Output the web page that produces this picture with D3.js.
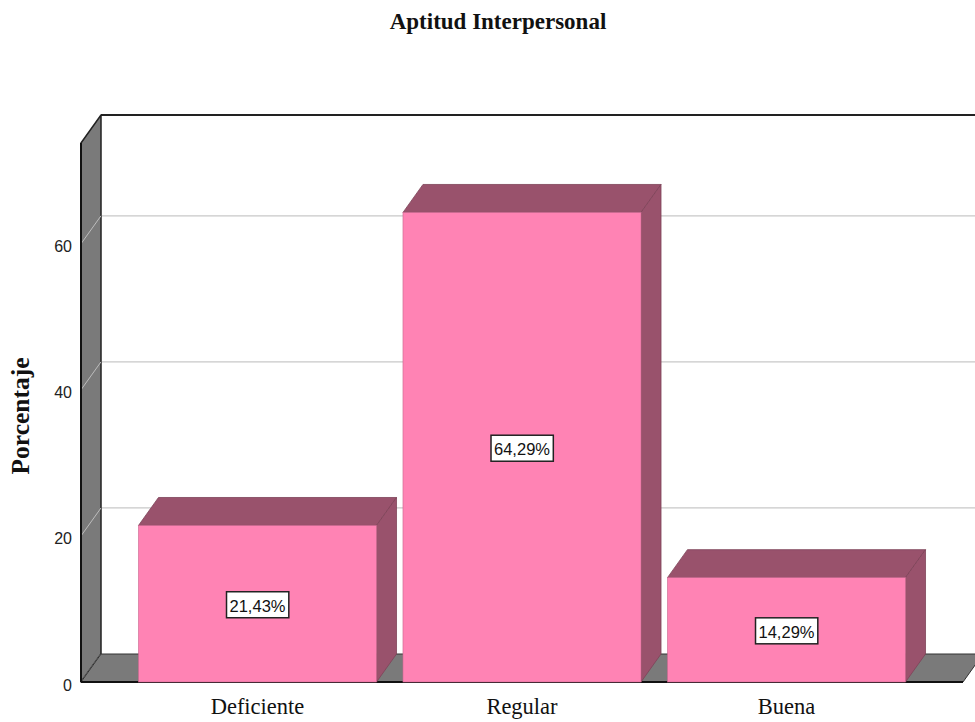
<!DOCTYPE html>
<html><head><meta charset="utf-8">
<script src="https://cdn.jsdelivr.net/npm/d3@7"></script>
<style>body{margin:0;background:#fff}svg{display:block}</style>
</head><body>
<script>
const categories = ["Deficiente", "Regular", "Buena"];
const values = [21.43, 64.29, 14.29];
const valueLabels = ["21,43%", "64,29%", "14,29%"];
const yTicks = [0, 20, 40, 60];
const title = "Aptitud Interpersonal";
const yTitle = "Porcentaje";

const W = 975, H = 722;
const dx = 20, dy = -28;
const svg = d3.select("body").append("svg").attr("width", W).attr("height", H);

const y = d3.scaleLinear().domain([0, 73.8]).range([682, 143]);
const x = d3.scaleBand().domain(categories).range([125.25, 918.75]).paddingInner(0.1).paddingOuter(0.05);
const x0 = 81, x1 = 963;

// back wall
svg.append("rect").attr("x", x0 + dx).attr("y", y.range()[1] + dy).attr("width", W).attr("height", y(0) - y.range()[1]).attr("fill", "#fff");
svg.selectAll(".grid").data(yTicks.filter(d => d > 0)).join("line")
  .attr("x1", x0 + dx).attr("x2", W).attr("y1", d => y(d) + dy).attr("y2", d => y(d) + dy)
  .attr("stroke", "#c8c8c8").attr("stroke-width", 1.2);
svg.append("line").attr("x1", x0 + dx).attr("x2", W).attr("y1", y.range()[1] + dy).attr("y2", y.range()[1] + dy)
  .attr("stroke", "#222").attr("stroke-width", 2);

// left wall
svg.append("path").attr("d", `M${x0},${y(0)}L${x0 + dx},${y(0) + dy}L${x0 + dx},${y.range()[1] + dy}L${x0},${y.range()[1]}Z`)
  .attr("fill", "#7a7a7a").attr("stroke", "#222").attr("stroke-width", 1.5).attr("stroke-linejoin", "round");
svg.selectAll(".lgrid").data(yTicks).join("line")
  .attr("x1", x0).attr("x2", x0 + dx).attr("y1", d => y(d)).attr("y2", d => y(d) + dy)
  .attr("stroke", "#bdbdbd").attr("stroke-width", 1);
// floor
svg.append("path").attr("d", `M${x0},${y(0)}L${x1},${y(0)}L${x1 + dx},${y(0) + dy}L${x0 + dx},${y(0) + dy}Z`)
  .attr("fill", "#7a7a7a").attr("stroke", "#333").attr("stroke-width", 1);
svg.append("line").attr("x1", x0).attr("x2", x1).attr("y1", y(0)).attr("y2", y(0)).attr("stroke", "#111").attr("stroke-width", 2);
svg.append("line").attr("x1", x0).attr("x2", x0).attr("y1", y(0)).attr("y2", y.range()[1]).attr("stroke", "#111").attr("stroke-width", 2);

// bars
const front = "#ff83b4", dark = "#99526c", edge = "#7d4258";
const bars = svg.selectAll(".bar").data(categories.map((c, i) => ({c, v: values[i], l: valueLabels[i]}))).join("g");
bars.append("path").attr("d", d => {
  const l = x(d.c), r = l + x.bandwidth(), t = y(d.v);
  return `M${l},${t}L${l + dx},${t + dy}L${r + dx},${t + dy}L${r},${t}Z`;
}).attr("fill", dark).attr("stroke", edge).attr("stroke-width", 0.8);
bars.append("path").attr("d", d => {
  const r = x(d.c) + x.bandwidth(), t = y(d.v), b = y(0);
  return `M${r},${t}L${r + dx},${t + dy}L${r + dx},${b + dy}L${r},${b}Z`;
}).attr("fill", dark).attr("stroke", edge).attr("stroke-width", 0.8);
bars.append("rect").attr("x", d => x(d.c)).attr("y", d => y(d.v)).attr("width", x.bandwidth()).attr("height", d => y(0) - y(d.v))
  .attr("fill", front).attr("stroke", "#c8688f").attr("stroke-width", 0.6);

// value labels
bars.each(function(d) {
  const g = d3.select(this);
  const cx = x(d.c) + x.bandwidth() / 2, cy = (y(d.v) + y(0)) / 2 + 1;
  const t = g.append("text").attr("x", cx).attr("y", cy + 1).attr("text-anchor", "middle").attr("dominant-baseline", "central")
    .attr("font-family", "Liberation Sans, Arial, sans-serif").attr("font-size", 16.5).attr("fill", "#111").text(d.l);
  const bb = t.node().getBBox();
  g.insert("rect", "text").attr("x", bb.x - 3).attr("y", cy - 13).attr("width", bb.width + 6).attr("height", 26)
    .attr("fill", "#fff").attr("stroke", "#222").attr("stroke-width", 1.5);
});

// y ticks
svg.selectAll(".tick").data(yTicks).join("text")
  .attr("x", 72).attr("y", d => y(d) + 3).attr("text-anchor", "end").attr("dominant-baseline", "central")
  .attr("font-family", "Liberation Sans, Arial, sans-serif").attr("font-size", 16).attr("fill", "#222").text(d => d);

// category labels
svg.selectAll(".cat").data(categories).join("text")
  .attr("x", d => x(d) + x.bandwidth() / 2).attr("y", 714).attr("text-anchor", "middle")
  .attr("font-family", "Liberation Serif, Times New Roman, serif").attr("font-size", 22.5).attr("fill", "#111").text(d => d);

// titles
svg.append("text").attr("x", 498).attr("y", 29).attr("text-anchor", "middle")
  .attr("font-family", "Liberation Serif, Times New Roman, serif").attr("font-weight", "bold").attr("font-size", 23).attr("fill", "#111").text(title);
svg.append("text").attr("transform", "translate(29,416) rotate(-90)").attr("text-anchor", "middle")
  .attr("font-family", "Liberation Serif, Times New Roman, serif").attr("font-weight", "bold").attr("font-size", 25.5).attr("fill", "#111").text(yTitle);
</script>
</body></html>
